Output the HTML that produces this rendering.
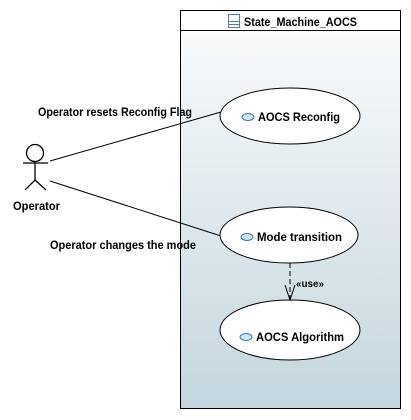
<!DOCTYPE html>
<html><head><style>body{margin:0;background:#fff}svg{display:block}</style></head><body>
<svg width="411" height="420" xmlns="http://www.w3.org/2000/svg" font-family="Liberation Sans, sans-serif">
<defs><linearGradient id="g" x1="0" y1="0" x2="0" y2="1"><stop offset="0" stop-color="#fbfcfd"/><stop offset="1" stop-color="#c4d6de"/></linearGradient></defs>
<rect x="180.5" y="10.5" width="220" height="398" fill="url(#g)" stroke="#000"/>
<rect x="181" y="11" width="219" height="19" fill="#fff"/>
<line x1="180" y1="30.5" x2="401" y2="30.5" stroke="#000"/>
<rect x="228.5" y="14.5" width="11" height="13" fill="#fff" stroke="#4a7fb5"/>
<line x1="229" y1="21.5" x2="239" y2="21.5" stroke="#4a7fb5"/><line x1="229" y1="24.5" x2="239" y2="24.5" stroke="#4a7fb5"/>
<text x="244" y="26" font-size="12" font-weight="bold" fill="#000" textLength="113" lengthAdjust="spacingAndGlyphs">State_Machine_AOCS</text>
<g stroke="#000" fill="none"><line x1="50" y1="161" x2="221" y2="112"/><line x1="50" y1="181" x2="221" y2="236"/></g>
<g stroke="#000" fill="#fff"><ellipse cx="290" cy="116" rx="70" ry="28"/><ellipse cx="289" cy="235" rx="69" ry="28"/><ellipse cx="290" cy="330" rx="70" ry="30"/></g>
<g fill="#cfe3f3" stroke="#3a78b8"><ellipse cx="248" cy="117" rx="6" ry="3.5"/><ellipse cx="247" cy="237" rx="6" ry="3.5"/><ellipse cx="246" cy="337" rx="6" ry="3.5"/></g>
<g font-size="12" font-weight="bold" fill="#000" lengthAdjust="spacingAndGlyphs">
<text x="258" y="121" textLength="82" lengthAdjust="spacingAndGlyphs">AOCS Reconfig</text>
<text x="257" y="241" textLength="85" lengthAdjust="spacingAndGlyphs">Mode transition</text>
<text x="256" y="341" textLength="88" lengthAdjust="spacingAndGlyphs">AOCS Algorithm</text>
<text x="38" y="116" textLength="154" lengthAdjust="spacingAndGlyphs">Operator resets Reconfig Flag</text>
<text x="50" y="249" textLength="146" lengthAdjust="spacingAndGlyphs">Operator changes the mode</text>
<text x="13" y="210" textLength="47" lengthAdjust="spacingAndGlyphs">Operator</text></g>
<text x="296" y="287" font-size="10" font-weight="bold" textLength="28" lengthAdjust="spacingAndGlyphs">«use»</text>
<line x1="290" y1="263" x2="290" y2="299" stroke="#000" stroke-dasharray="5,3"/>
<polyline points="285,285 290,300 295,285" fill="none" stroke="#000"/>
<g stroke="#000" fill="none" stroke-width="1.3"><circle cx="35" cy="153" r="8.5"/><line x1="35" y1="162" x2="35" y2="180"/><line x1="23" y1="163" x2="48" y2="163"/><polyline points="25,190 35,180 46,190"/></g>
</svg>
</body></html>
